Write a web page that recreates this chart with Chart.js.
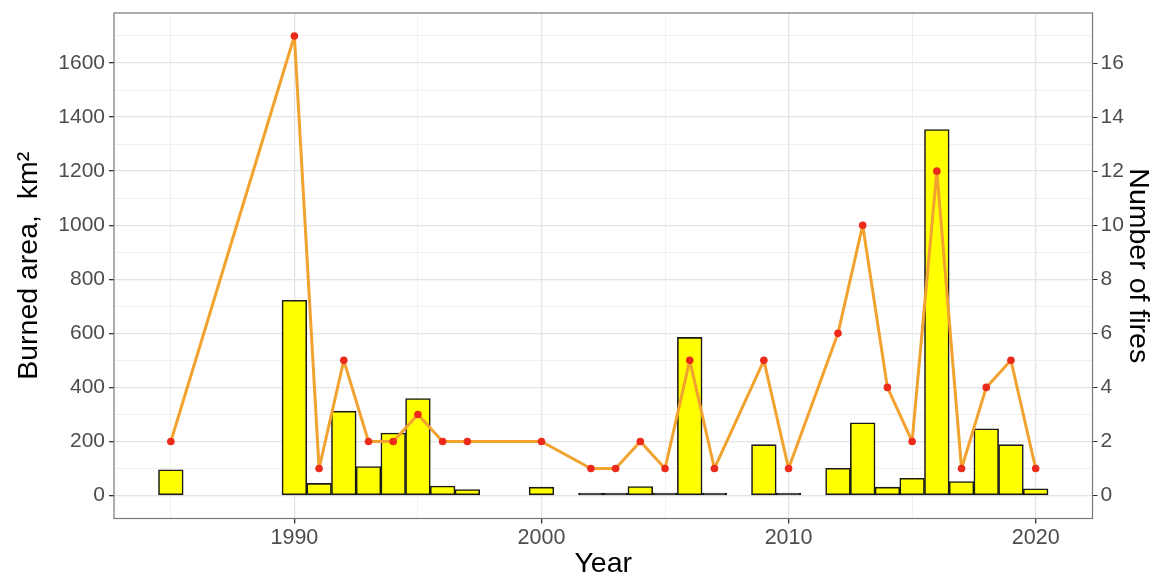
<!DOCTYPE html>
<html>
<head>
<meta charset="utf-8">
<script src="https://cdn.jsdelivr.net/npm/chart.js@4.4.1/dist/chart.umd.min.js"></script>
<style>
html,body{margin:0;padding:0;background:#fff;}
#wrap{width:1151px;height:575px;position:relative;}
</style>
</head>
<body>
<div id="wrap"><canvas id="c"></canvas></div>
<script>
// Burned area (km²) per year
const areaYears = [1985,1990,1991,1992,1993,1994,1995,1996,1997,2000,2002,2003,2004,2005,2006,2007,2009,2010,2012,2013,2014,2015,2016,2017,2018,2019,2020];
const areaValues = [95,722,45,312,107,231,359,35,22,31,2,5,33,1,585,2,188,1,101,269,31,64,1354,52,247,188,25];
// Number of fires per year
const fireYears = [1985,1990,1991,1992,1993,1994,1995,1996,1997,2000,2002,2003,2004,2005,2006,2007,2009,2010,2012,2013,2014,2015,2016,2017,2018,2019,2020];
const fireCounts = [2,17,1,5,2,2,3,2,2,2,1,1,2,1,5,1,5,1,6,10,4,2,12,1,4,5,1];
// Tick values
const xTicks = [1985,1990,1995,2000,2005,2010,2015,2020];
const xLabelTicks = [1990,2000,2010,2020];
const yTicks = [0,100,200,300,400,500,600,700,800,900,1000,1100,1200,1300,1400,1500,1600,1700];
const yLabelTicks = [0,200,400,600,800,1000,1200,1400,1600];
const y2Ticks = [0,2,4,6,8,10,12,14,16];

Chart.defaults.font.family = "'Liberation Sans', Arial, sans-serif";

const tickColor = '#4D4D4D';
const majorGrid = '#E4E4E4';
const minorGrid = '#F0F0F0';

const borderPlugin = {
  id: 'panelBorder',
  afterDraw(chart) {
    const a = chart.chartArea, ctx = chart.ctx;
    ctx.save();
    ctx.strokeStyle = '#777777';
    ctx.lineWidth = 1.2;
    ctx.strokeRect(a.left, a.top, a.right - a.left, a.bottom - a.top);
    ctx.restore();
  }
};

new Chart(document.getElementById('c'), {
  data: {
    datasets: [
      {
        type: 'line',
        label: 'Number of fires',
        data: fireYears.map((y, i) => ({x: y, y: fireCounts[i]})),
        yAxisID: 'y2',
        borderColor: '#F2A22E',
        borderWidth: 3,
        borderJoinStyle: 'round',
        borderCapStyle: 'round',
        pointRadius: 3.8,
        pointBackgroundColor: '#EC2A1C',
        pointBorderWidth: 0,
        tension: 0,
        order: 1
      },
      {
        type: 'bar',
        label: 'Burned area',
        data: areaYears.map((y, i) => ({x: y, y: areaValues[i]})),
        yAxisID: 'y',
        backgroundColor: c => (c.raw && c.raw.y < 10) ? '#1A1A1A' : '#FFFF00',
        borderColor: '#1A1A1A',
        borderWidth: 1.6,
        borderSkipped: false,
        minBarLength: 2.5,
        barPercentage: 1,
        categoryPercentage: 1,
        order: 2
      }
    ]
  },
  options: {
    responsive: true,
    maintainAspectRatio: false,
    animation: false,
    layout: {padding: {top: 13, left: 0, right: 0, bottom: 0}},
    plugins: {legend: {display: false}, tooltip: {enabled: false}},
    scales: {
      x: {
        type: 'linear',
        offset: false,
        min: 1982.7,
        max: 2022.3,
        afterBuildTicks: s => { s.ticks = xTicks.map(v => ({value: v})); },
        afterFit: s => { s.height = 56.5; s.paddingLeft = 0; s.paddingRight = 0; },
        border: {display: false},
        grid: {
          offset: false,
          color: c => (c.tick && xLabelTicks.includes(c.tick.value)) ? majorGrid : minorGrid,
          lineWidth: c => (c.tick && xLabelTicks.includes(c.tick.value)) ? 1.3 : 1,
          tickColor: c => (c.tick && xLabelTicks.includes(c.tick.value)) ? '#333333' : 'rgba(0,0,0,0)',
          tickLength: 5,
          drawTicks: true
        },
        ticks: {
          autoSkip: false,
          maxRotation: 0,
          color: tickColor,
          font: {size: 21.5},
          padding: 2,
          callback: v => xLabelTicks.includes(v) ? String(v) : ''
        },
        title: {display: true, text: 'Year', color: '#000', font: {size: 28.5, lineHeight: 0.78}, padding: {top: 0, bottom: 0}}
      },
      y: {
        type: 'linear',
        position: 'left',
        min: -85,
        max: 1785,
        afterBuildTicks: s => { s.ticks = yTicks.map(v => ({value: v})); },
        afterFit: s => { s.width = 114; s.paddingTop = 0; s.paddingBottom = 0; },
        border: {display: false},
        grid: {
          color: c => (c.tick && yLabelTicks.includes(c.tick.value)) ? majorGrid : minorGrid,
          lineWidth: c => (c.tick && yLabelTicks.includes(c.tick.value)) ? 1.3 : 1,
          tickColor: c => (c.tick && yLabelTicks.includes(c.tick.value)) ? '#333333' : 'rgba(0,0,0,0)',
          tickLength: 5
        },
        ticks: {
          autoSkip: false,
          color: tickColor,
          font: {size: 21},
          padding: 4,
          callback: v => yLabelTicks.includes(v) ? String(v) : ''
        },
        title: {display: true, text: 'Burned area,  km²', color: '#000', font: {size: 28.5, lineHeight: 1.0}, padding: {top: 15, bottom: 0}}
      },
      y2: {
        type: 'linear',
        position: 'right',
        min: -0.85,
        max: 17.85,
        afterBuildTicks: s => { s.ticks = y2Ticks.map(v => ({value: v})); },
        afterFit: s => { s.width = 58.5; s.paddingTop = 0; s.paddingBottom = 0; },
        border: {display: false},
        grid: {drawOnChartArea: false, tickColor: '#333333', tickLength: 5},
        ticks: {autoSkip: false, color: tickColor, font: {size: 21}, padding: 3},
        title: {display: true, text: 'Number of fires', color: '#000', font: {size: 28.5, lineHeight: 0.95}, padding: {top: 0, bottom: 0}}
      }
    }
  },
  plugins: [borderPlugin]
});
</script>
</body>
</html>
